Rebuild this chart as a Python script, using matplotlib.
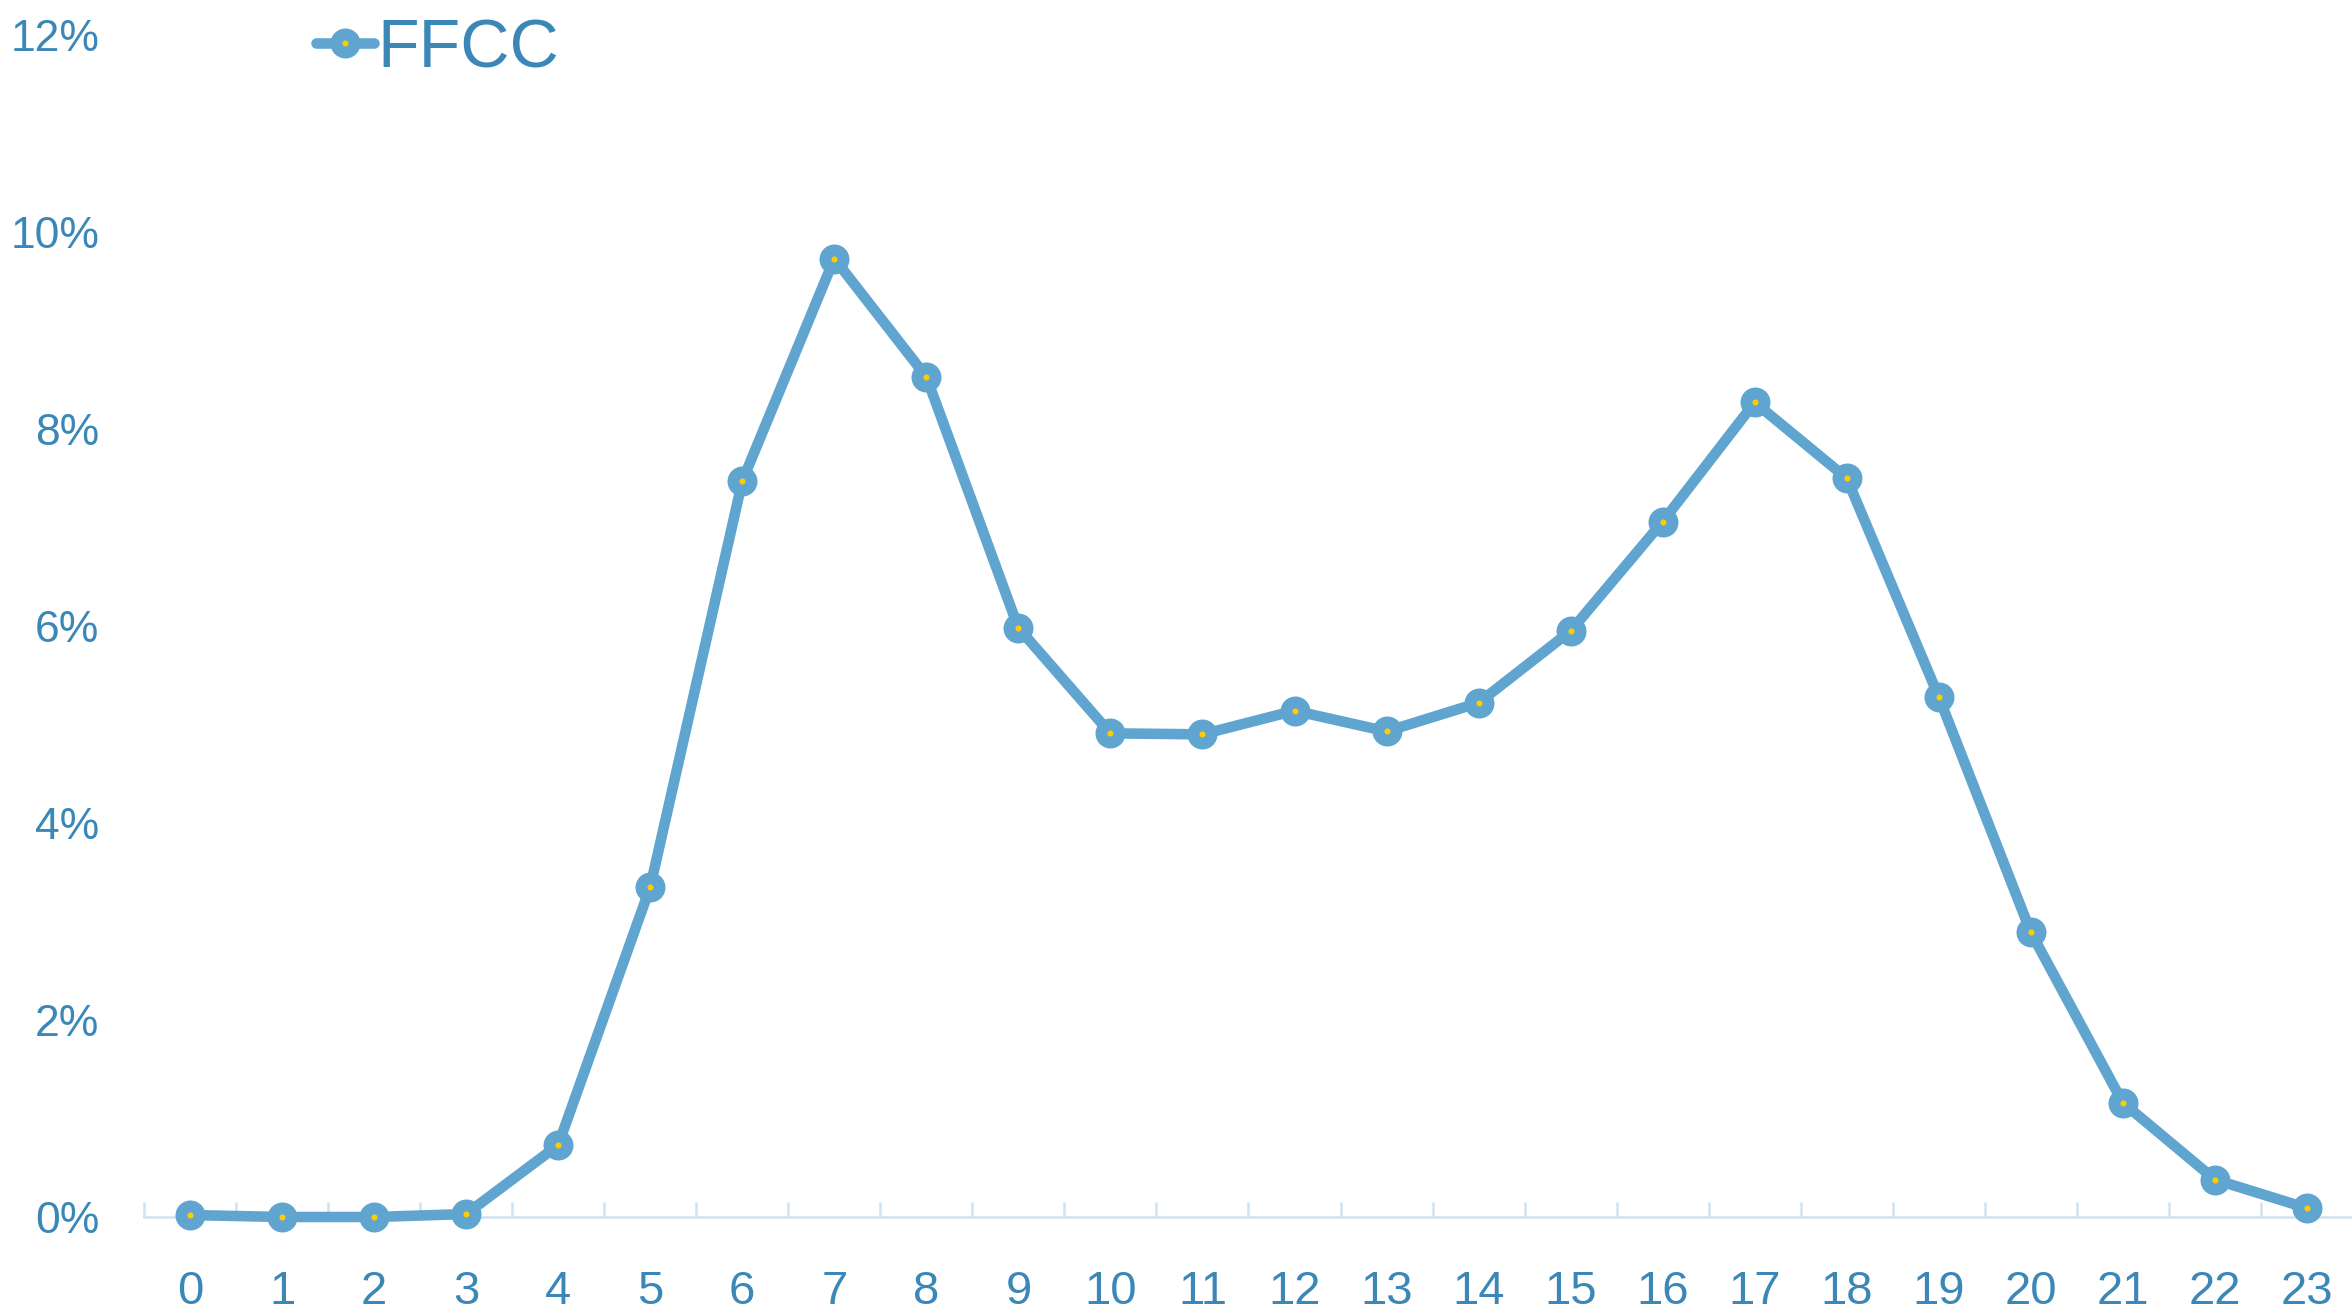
import matplotlib
matplotlib.use("Agg")
import matplotlib.pyplot as plt
from matplotlib.legend_handler import HandlerTuple
from matplotlib.ticker import FuncFormatter, FixedLocator
import numpy as np

hours = list(range(24))
hour_labels = [str(h) for h in hours]
ffcc = [0.0002, 0.0000, 0.0000, 0.0003, 0.0073, 0.0335, 0.0747, 0.0973,
        0.0853, 0.0598, 0.0491, 0.0490, 0.0514, 0.0493, 0.0522, 0.0595,
        0.0706, 0.0827, 0.0750, 0.0528, 0.0289, 0.0116, 0.0038, 0.0009]
series_name = 'FFCC'

line_col = '#5FA5D0'
text_col = '#3A87B8'
dot_col = '#FFCC00'
axis_col = '#CFE2F1'

plt.rcParams['font.family'] = ['Liberation Sans', 'DejaVu Sans']

fig = plt.figure(figsize=(11.76, 6.58), dpi=200)
ax = fig.add_axes([144/2352, 1 - 1217/1316, 2209/2352, 1182/1316])

x = np.array(hours)
l1, = ax.plot(x, ffcc, color=line_col, lw=3.8, marker='o', markersize=10.8,
              markerfacecolor=line_col, markeredgewidth=0, clip_on=False,
              solid_capstyle='round', zorder=3)
l2, = ax.plot(x, ffcc, linestyle='none', marker='o', markersize=2.2,
              markerfacecolor=dot_col, markeredgewidth=0, clip_on=False, zorder=4)

ax.set_xlim(-0.5, 23.5)
ax.set_ylim(0, 0.12)
ax.set_xticks(x)
ax.set_xticklabels(hour_labels)
ax.xaxis.set_minor_locator(FixedLocator(np.arange(-0.5, 24, 1)))
ax.tick_params(axis='x', which='major', length=0, pad=19, labelsize=17, labelcolor=text_col)
ax.tick_params(axis='x', which='minor', length=5.4, width=0.9, direction='in', color=axis_col)
ax.set_yticks(np.arange(0, 0.121, 0.02))
ax.yaxis.set_major_formatter(FuncFormatter(lambda v, p: '%d%%' % round(v*100)))
ax.tick_params(axis='y', length=0, pad=16, labelsize=16, labelcolor=text_col)

for s in ['left', 'top', 'right']:
    ax.spines[s].set_visible(False)
ax.spines['bottom'].set_color(axis_col)
ax.spines['bottom'].set_linewidth(0.9)

leg = fig.legend([(l1, l2)], [series_name], handler_map={tuple: HandlerTuple(ndivide=1)},
                 loc='center left', bbox_to_anchor=(316/2352, 1 - 49/1316),
                 frameon=False, borderpad=0, borderaxespad=0, handlelength=0.85,
                 handletextpad=0.05, fontsize=24.5)
for t in leg.get_texts():
    t.set_color(text_col)

fig.savefig('out.png', dpi=200)
